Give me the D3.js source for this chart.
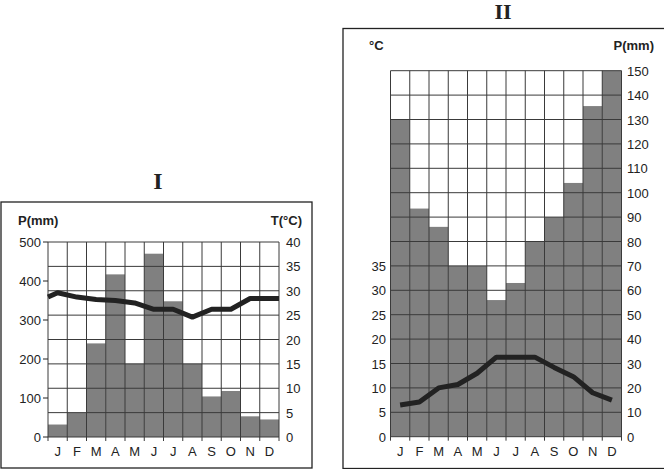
<!DOCTYPE html>
<html>
<head>
<meta charset="utf-8">
<script src="https://cdn.jsdelivr.net/npm/d3@7"></script>
<style>
  body { margin: 0; background: #fff; }
  svg { display: block; font-family: "Liberation Sans", Arial, sans-serif; }
</style>
</head>
<body>
<svg></svg>
<script>
// размеры окна
const width = 664;
const height = 469;

// данные
const months = ["J", "F", "M", "A", "M", "J", "J", "A", "S", "O", "N", "D"];

// диаграмма I
const precipI = [32, 62, 240, 417, 188, 470, 348, 188, 104, 118, 53, 45];
const tempI = [29.6, 28.7, 28.2, 28, 27.5, 26.2, 26.2, 24.6, 26.2, 26.2, 28.4, 28.4];
const tempIEdges = [28.7, 28.4]; // линия начинается и кончается на краях
const pTicksI = [0, 100, 200, 300, 400, 500];
const tTicksI = [0, 5, 10, 15, 20, 25, 30, 35, 40];

// диаграмма II
const precipII = [130, 93.5, 86, 70, 70, 56, 63, 80, 90, 104, 135.5, 150];
const tempII = [6.5, 7.1, 10, 10.7, 13, 16.3, 16.3, 16.3, 14.2, 12.3, 9, 7.5];
const pTicksII = [0, 10, 20, 30, 40, 50, 60, 70, 80, 90, 100, 110, 120, 130, 140, 150];
const tTicksII = [0, 5, 10, 15, 20, 25, 30, 35];

let svg = d3.select("svg")
    .attr("width", width)
    .attr("height", height);

const barColor = "#808080";
const gridColor = "#3a3a3a";
const lineColor = "#222";

function drawChart(cfg) {
    let g = svg.append("g");

    // рамка
    g.append("rect")
        .attr("x", cfg.box[0]).attr("y", cfg.box[1])
        .attr("width", cfg.box[2]).attr("height", cfg.box[3])
        .attr("fill", "#fff").attr("stroke", "#222").attr("stroke-width", 1.3);

    // заголовок
    g.append("text")
        .attr("x", cfg.title[0]).attr("y", cfg.title[1])
        .attr("text-anchor", "middle")
        .style("font-family", "'Liberation Serif', 'Times New Roman', serif")
        .style("font-weight", "bold")
        .style("font-size", cfg.titleSize)
        .style("fill", "#222")
        .text(cfg.titleText);

    const x = d3.scaleBand()
        .domain(d3.range(12))
        .range([cfg.left, cfg.right])
        .padding(0);

    const yP = d3.scaleLinear().domain([0, cfg.pMax]).range([cfg.bottom, cfg.top]);
    const yT = d3.scaleLinear().domain([0, cfg.tMax]).range([cfg.bottom, cfg.top]);

    // столбики осадков
    g.selectAll("rect.bar")
        .data(cfg.precip)
        .join("rect")
        .attr("class", "bar")
        .attr("x", (d, i) => x(i))
        .attr("width", x.bandwidth())
        .attr("y", d => yP(d))
        .attr("height", d => cfg.bottom - yP(d))
        .attr("fill", barColor);

    // сетка
    g.selectAll("line.hgrid")
        .data(cfg.gridValues)
        .join("line")
        .attr("class", "hgrid")
        .attr("x1", cfg.left).attr("x2", cfg.right)
        .attr("y1", d => cfg.gridScale(yP, yT)(d))
        .attr("y2", d => cfg.gridScale(yP, yT)(d))
        .attr("stroke", gridColor).attr("stroke-width", 1);

    g.selectAll("line.vgrid")
        .data(d3.range(13))
        .join("line")
        .attr("class", "vgrid")
        .attr("x1", i => cfg.left + i * x.bandwidth())
        .attr("x2", i => cfg.left + i * x.bandwidth())
        .attr("y1", cfg.top).attr("y2", cfg.bottom + 4)
        .attr("stroke", gridColor).attr("stroke-width", 1);

    // подписи месяцев
    g.selectAll("text.month")
        .data(months)
        .join("text")
        .attr("class", "month")
        .attr("x", (d, i) => x(i) + x.bandwidth() / 2)
        .attr("y", cfg.bottom + 19)
        .attr("text-anchor", "middle")
        .style("font-size", "13px")
        .style("fill", "#222")
        .text(d => d);

    // линия температуры
    let pts = cfg.temp.map((t, i) => [x(i) + x.bandwidth() / 2, yT(t)]);
    if (cfg.edges) {
        pts.unshift([cfg.left, yT(cfg.edges[0])]);
        pts.push([cfg.right, yT(cfg.edges[1])]);
    }
    g.append("path")
        .attr("d", d3.line()(pts))
        .attr("fill", "none")
        .attr("stroke", lineColor)
        .attr("stroke-width", 5)
        .attr("stroke-linejoin", "round");

    return { g, x, yP, yT };
}

// ---------- диаграмма I ----------
let c1 = drawChart({
    box: [1, 202, 311, 266],
    title: [158, 189], titleText: "I", titleSize: "24px",
    left: 48, right: 279, top: 242, bottom: 437,
    pMax: 500, tMax: 40,
    precip: precipI, temp: tempI, edges: tempIEdges,
    gridValues: tTicksI,
    gridScale: (yP, yT) => yT
});

// левая ось осадков
c1.g.selectAll("line.ptick")
    .data(pTicksI)
    .join("line")
    .attr("x1", 43).attr("x2", 48)
    .attr("y1", d => c1.yP(d)).attr("y2", d => c1.yP(d))
    .attr("stroke", "#222");
c1.g.selectAll("text.plab")
    .data(pTicksI)
    .join("text")
    .attr("x", 41)
    .attr("y", d => c1.yP(d) + 5)
    .attr("text-anchor", "end")
    .style("font-size", "13px").style("fill", "#222")
    .text(d => d);
// правая ось температуры
c1.g.selectAll("text.tlab")
    .data(tTicksI)
    .join("text")
    .attr("x", 286)
    .attr("y", d => c1.yT(d) + 5)
    .style("font-size", "13px").style("fill", "#222")
    .text(d => d);
c1.g.append("text")
    .attr("x", 18).attr("y", 225)
    .style("font-size", "13px").style("font-weight", "bold").style("fill", "#222")
    .text("P(mm)");
c1.g.append("text")
    .attr("x", 302).attr("y", 225)
    .attr("text-anchor", "end")
    .style("font-size", "13px").style("font-weight", "bold").style("fill", "#222")
    .text("T(°C)");

// ---------- диаграмма II ----------
let c2 = drawChart({
    box: [343, 28.5, 330, 440],
    title: [503, 19], titleText: "II", titleSize: "22px",
    left: 390.5, right: 621.5, top: 70.7, bottom: 436.7,
    pMax: 150, tMax: 75,
    precip: precipII, temp: tempII,
    gridValues: pTicksII,
    gridScale: (yP, yT) => yP
});

// левая ось температуры
c2.g.selectAll("text.tlab")
    .data(tTicksII)
    .join("text")
    .attr("x", 386)
    .attr("y", d => c2.yT(d) + 5)
    .attr("text-anchor", "end")
    .style("font-size", "13px").style("fill", "#222")
    .text(d => d);
// правая ось осадков
c2.g.selectAll("text.plab")
    .data(pTicksII)
    .join("text")
    .attr("x", 627)
    .attr("y", d => c2.yP(d) + 5)
    .style("font-size", "13px").style("fill", "#222")
    .text(d => d);
c2.g.append("text")
    .attr("x", 369).attr("y", 50)
    .style("font-size", "13px").style("font-weight", "bold").style("fill", "#222")
    .text("°C");
c2.g.append("text")
    .attr("x", 654).attr("y", 50)
    .attr("text-anchor", "end")
    .style("font-size", "13px").style("font-weight", "bold").style("fill", "#222")
    .text("P(mm)");
</script>
</body>
</html>
